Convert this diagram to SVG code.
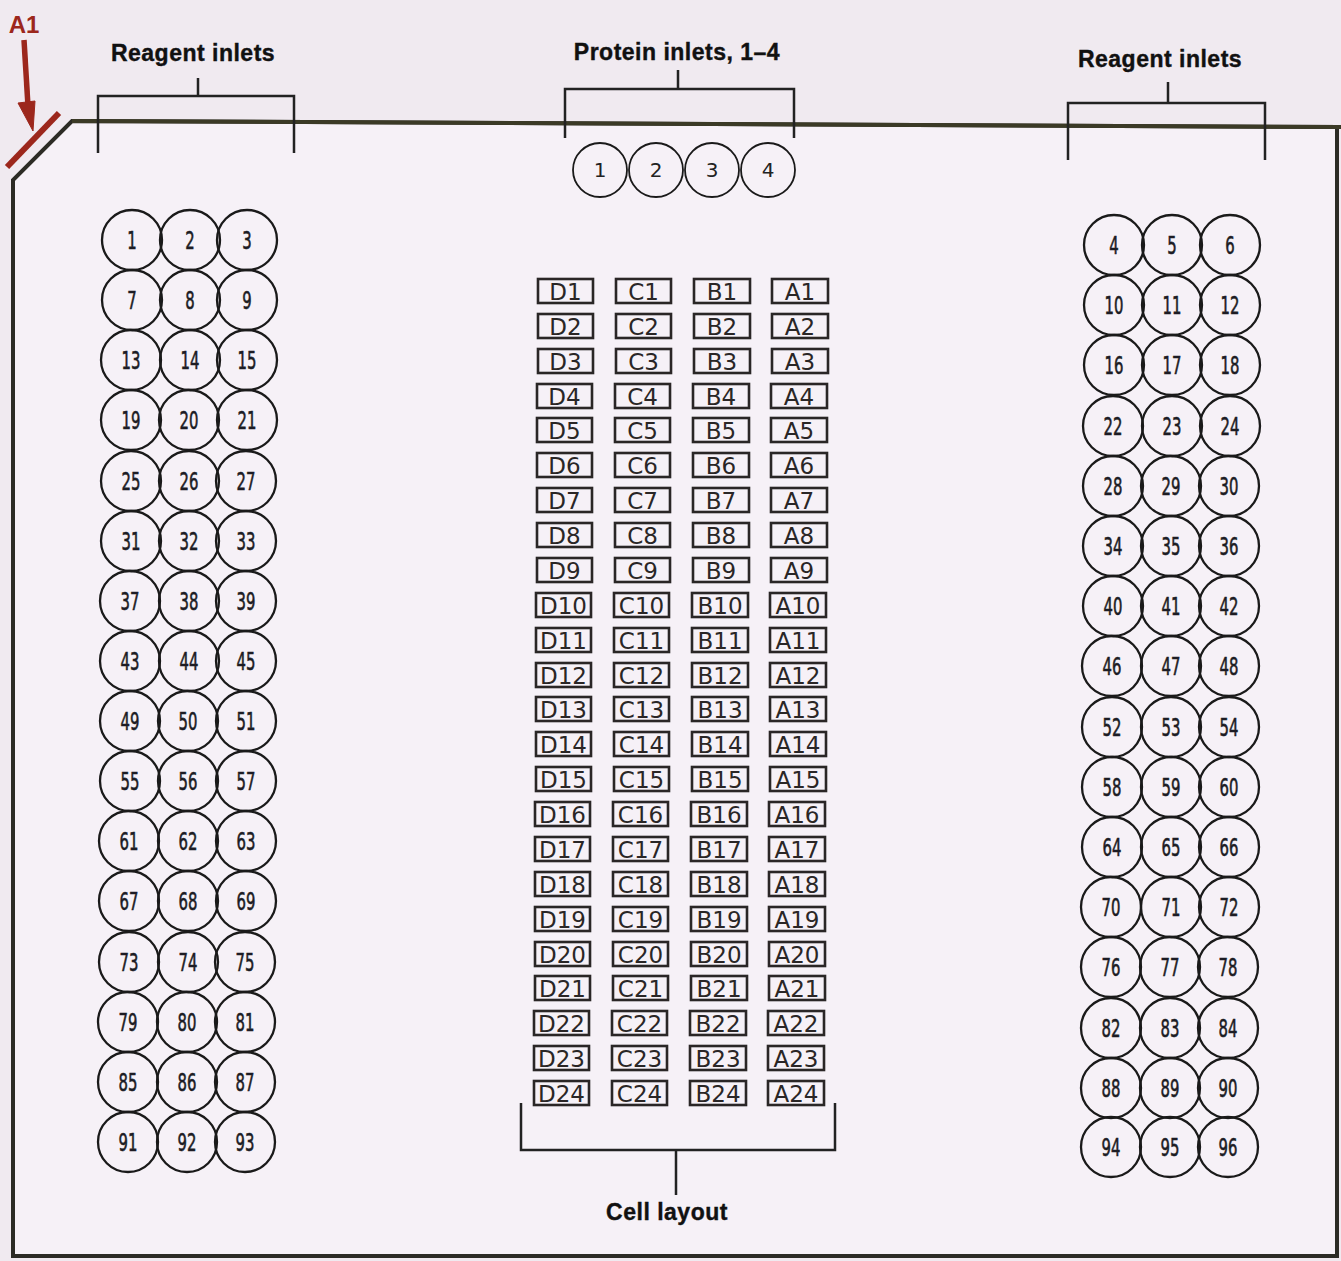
<svg xmlns="http://www.w3.org/2000/svg" width="1341" height="1261" viewBox="0 0 1341 1261">
<style>
.bg{fill:#f0eaf0}
.plate{fill:#f6f1f7;stroke:#2c2b25;stroke-width:4}
.br{fill:none;stroke:#222;stroke-width:2.5}
.lbl{font-family:"Liberation Sans",Arial,sans-serif;font-weight:bold;font-size:23px;letter-spacing:0.5px;fill:#111;text-anchor:middle;stroke:#111;stroke-width:0.4}
.w circle{fill:none;stroke:#1a1a1a;stroke-width:2.3}
.w text{font-family:"DejaVu Sans Condensed","DejaVu Sans",sans-serif;font-size:25px;fill:#1c1c24;stroke:#1c1c24;stroke-width:0.6;text-anchor:middle;transform:scale(0.66,1)}
.p circle{fill:none;stroke:#1a1a1a;stroke-width:1.8}
.p text{font-family:"DejaVu Sans",sans-serif;font-size:20px;fill:#222;text-anchor:middle}
.c rect{fill:none;stroke:#2a2626;stroke-width:2.6}
.c text{font-family:"DejaVu Sans",sans-serif;font-size:23px;fill:#2a2626;text-anchor:middle}
.red{stroke:#9c271c;fill:#9c271c}
</style>
<rect class="bg" x="0" y="0" width="1341" height="1261"/>
<g id="plate">
<path class="plate" d="M13 1256 L13 180 L72 121 L1341 127 L1337 127 L1337 1256 Z" />
<path d="M72 121 L1341 127" stroke="#3b3a26" stroke-width="4" fill="none"/>
</g>
<g id="marker-A1">
<text x="24" y="33" font-family="Liberation Sans,Arial,sans-serif" font-weight="bold" font-size="24" fill="#9c271c" text-anchor="middle">A1</text>
<line class="red" x1="24" y1="40" x2="28" y2="106" stroke-width="5.5"/>
<polygon class="red" points="18,103 35,101 33,131"/>
<line class="red" x1="7" y1="167" x2="59" y2="113" stroke-width="6"/>
</g>
<g id="connectors">
<path class="br" d="M98 153 V96 H294 V153 M198 96 V78"/>
<path class="br" d="M565 138 V89 H794 V138 M678 89 V70"/>
<path class="br" d="M1068 160 V103 H1265 V160 M1168 103 V82"/>
<path class="br" d="M521 1103 V1150 H835 V1103 M676 1150 V1195"/>
</g>
<g id="labels">
<text class="lbl" x="193" y="61">Reagent inlets</text>
<text class="lbl" x="677" y="60">Protein inlets, 1–4</text>
<text class="lbl" x="1160" y="67">Reagent inlets</text>
<text class="lbl" x="667" y="1220">Cell layout</text>
</g>
<g id="protein-inlets" class="p">
<g id="protein-1" transform="translate(600,170)"><circle r="27"/><text y="7">1</text></g>
<g id="protein-2" transform="translate(656,170)"><circle r="27"/><text y="7">2</text></g>
<g id="protein-3" transform="translate(712,170)"><circle r="27"/><text y="7">3</text></g>
<g id="protein-4" transform="translate(768,170)"><circle r="27"/><text y="7">4</text></g>
</g>
<g id="left-reagent-wells" class="w">
<g id="well-1" transform="translate(132,240)"><circle r="30"/><text y="9">1</text></g>
<g id="well-2" transform="translate(190,240)"><circle r="30"/><text y="9">2</text></g>
<g id="well-3" transform="translate(247,240)"><circle r="30"/><text y="9">3</text></g>
<g id="well-7" transform="translate(132,300)"><circle r="30"/><text y="9">7</text></g>
<g id="well-8" transform="translate(190,300)"><circle r="30"/><text y="9">8</text></g>
<g id="well-9" transform="translate(247,300)"><circle r="30"/><text y="9">9</text></g>
<g id="well-13" transform="translate(131,360)"><circle r="30"/><text y="9">13</text></g>
<g id="well-14" transform="translate(190,360)"><circle r="30"/><text y="9">14</text></g>
<g id="well-15" transform="translate(247,360)"><circle r="30"/><text y="9">15</text></g>
<g id="well-19" transform="translate(131,420)"><circle r="30"/><text y="9">19</text></g>
<g id="well-20" transform="translate(189,420)"><circle r="30"/><text y="9">20</text></g>
<g id="well-21" transform="translate(247,420)"><circle r="30"/><text y="9">21</text></g>
<g id="well-25" transform="translate(131,481)"><circle r="30"/><text y="9">25</text></g>
<g id="well-26" transform="translate(189,481)"><circle r="30"/><text y="9">26</text></g>
<g id="well-27" transform="translate(246,481)"><circle r="30"/><text y="9">27</text></g>
<g id="well-31" transform="translate(131,541)"><circle r="30"/><text y="9">31</text></g>
<g id="well-32" transform="translate(189,541)"><circle r="30"/><text y="9">32</text></g>
<g id="well-33" transform="translate(246,541)"><circle r="30"/><text y="9">33</text></g>
<g id="well-37" transform="translate(130,601)"><circle r="30"/><text y="9">37</text></g>
<g id="well-38" transform="translate(189,601)"><circle r="30"/><text y="9">38</text></g>
<g id="well-39" transform="translate(246,601)"><circle r="30"/><text y="9">39</text></g>
<g id="well-43" transform="translate(130,661)"><circle r="30"/><text y="9">43</text></g>
<g id="well-44" transform="translate(189,661)"><circle r="30"/><text y="9">44</text></g>
<g id="well-45" transform="translate(246,661)"><circle r="30"/><text y="9">45</text></g>
<g id="well-49" transform="translate(130,721)"><circle r="30"/><text y="9">49</text></g>
<g id="well-50" transform="translate(188,721)"><circle r="30"/><text y="9">50</text></g>
<g id="well-51" transform="translate(246,721)"><circle r="30"/><text y="9">51</text></g>
<g id="well-55" transform="translate(130,781)"><circle r="30"/><text y="9">55</text></g>
<g id="well-56" transform="translate(188,781)"><circle r="30"/><text y="9">56</text></g>
<g id="well-57" transform="translate(246,781)"><circle r="30"/><text y="9">57</text></g>
<g id="well-61" transform="translate(129,841)"><circle r="30"/><text y="9">61</text></g>
<g id="well-62" transform="translate(188,841)"><circle r="30"/><text y="9">62</text></g>
<g id="well-63" transform="translate(246,841)"><circle r="30"/><text y="9">63</text></g>
<g id="well-67" transform="translate(129,901)"><circle r="30"/><text y="9">67</text></g>
<g id="well-68" transform="translate(188,901)"><circle r="30"/><text y="9">68</text></g>
<g id="well-69" transform="translate(246,901)"><circle r="30"/><text y="9">69</text></g>
<g id="well-73" transform="translate(129,962)"><circle r="30"/><text y="9">73</text></g>
<g id="well-74" transform="translate(188,962)"><circle r="30"/><text y="9">74</text></g>
<g id="well-75" transform="translate(245,962)"><circle r="30"/><text y="9">75</text></g>
<g id="well-79" transform="translate(128,1022)"><circle r="30"/><text y="9">79</text></g>
<g id="well-80" transform="translate(187,1022)"><circle r="30"/><text y="9">80</text></g>
<g id="well-81" transform="translate(245,1022)"><circle r="30"/><text y="9">81</text></g>
<g id="well-85" transform="translate(128,1082)"><circle r="30"/><text y="9">85</text></g>
<g id="well-86" transform="translate(187,1082)"><circle r="30"/><text y="9">86</text></g>
<g id="well-87" transform="translate(245,1082)"><circle r="30"/><text y="9">87</text></g>
<g id="well-91" transform="translate(128,1142)"><circle r="30"/><text y="9">91</text></g>
<g id="well-92" transform="translate(187,1142)"><circle r="30"/><text y="9">92</text></g>
<g id="well-93" transform="translate(245,1142)"><circle r="30"/><text y="9">93</text></g>
</g>
<g id="right-reagent-wells" class="w">
<g id="well-4" transform="translate(1114,245)"><circle r="30"/><text y="9">4</text></g>
<g id="well-5" transform="translate(1172,245)"><circle r="30"/><text y="9">5</text></g>
<g id="well-6" transform="translate(1230,245)"><circle r="30"/><text y="9">6</text></g>
<g id="well-10" transform="translate(1114,305)"><circle r="30"/><text y="9">10</text></g>
<g id="well-11" transform="translate(1172,305)"><circle r="30"/><text y="9">11</text></g>
<g id="well-12" transform="translate(1230,305)"><circle r="30"/><text y="9">12</text></g>
<g id="well-16" transform="translate(1114,365)"><circle r="30"/><text y="9">16</text></g>
<g id="well-17" transform="translate(1172,365)"><circle r="30"/><text y="9">17</text></g>
<g id="well-18" transform="translate(1230,365)"><circle r="30"/><text y="9">18</text></g>
<g id="well-22" transform="translate(1113,426)"><circle r="30"/><text y="9">22</text></g>
<g id="well-23" transform="translate(1172,426)"><circle r="30"/><text y="9">23</text></g>
<g id="well-24" transform="translate(1230,426)"><circle r="30"/><text y="9">24</text></g>
<g id="well-28" transform="translate(1113,486)"><circle r="30"/><text y="9">28</text></g>
<g id="well-29" transform="translate(1171,486)"><circle r="30"/><text y="9">29</text></g>
<g id="well-30" transform="translate(1229,486)"><circle r="30"/><text y="9">30</text></g>
<g id="well-34" transform="translate(1113,546)"><circle r="30"/><text y="9">34</text></g>
<g id="well-35" transform="translate(1171,546)"><circle r="30"/><text y="9">35</text></g>
<g id="well-36" transform="translate(1229,546)"><circle r="30"/><text y="9">36</text></g>
<g id="well-40" transform="translate(1113,606)"><circle r="30"/><text y="9">40</text></g>
<g id="well-41" transform="translate(1171,606)"><circle r="30"/><text y="9">41</text></g>
<g id="well-42" transform="translate(1229,606)"><circle r="30"/><text y="9">42</text></g>
<g id="well-46" transform="translate(1112,666)"><circle r="30"/><text y="9">46</text></g>
<g id="well-47" transform="translate(1171,666)"><circle r="30"/><text y="9">47</text></g>
<g id="well-48" transform="translate(1229,666)"><circle r="30"/><text y="9">48</text></g>
<g id="well-52" transform="translate(1112,727)"><circle r="30"/><text y="9">52</text></g>
<g id="well-53" transform="translate(1171,727)"><circle r="30"/><text y="9">53</text></g>
<g id="well-54" transform="translate(1229,727)"><circle r="30"/><text y="9">54</text></g>
<g id="well-58" transform="translate(1112,787)"><circle r="30"/><text y="9">58</text></g>
<g id="well-59" transform="translate(1171,787)"><circle r="30"/><text y="9">59</text></g>
<g id="well-60" transform="translate(1229,787)"><circle r="30"/><text y="9">60</text></g>
<g id="well-64" transform="translate(1112,847)"><circle r="30"/><text y="9">64</text></g>
<g id="well-65" transform="translate(1171,847)"><circle r="30"/><text y="9">65</text></g>
<g id="well-66" transform="translate(1229,847)"><circle r="30"/><text y="9">66</text></g>
<g id="well-70" transform="translate(1111,907)"><circle r="30"/><text y="9">70</text></g>
<g id="well-71" transform="translate(1171,907)"><circle r="30"/><text y="9">71</text></g>
<g id="well-72" transform="translate(1229,907)"><circle r="30"/><text y="9">72</text></g>
<g id="well-76" transform="translate(1111,967)"><circle r="30"/><text y="9">76</text></g>
<g id="well-77" transform="translate(1170,967)"><circle r="30"/><text y="9">77</text></g>
<g id="well-78" transform="translate(1228,967)"><circle r="30"/><text y="9">78</text></g>
<g id="well-82" transform="translate(1111,1028)"><circle r="30"/><text y="9">82</text></g>
<g id="well-83" transform="translate(1170,1028)"><circle r="30"/><text y="9">83</text></g>
<g id="well-84" transform="translate(1228,1028)"><circle r="30"/><text y="9">84</text></g>
<g id="well-88" transform="translate(1111,1088)"><circle r="30"/><text y="9">88</text></g>
<g id="well-89" transform="translate(1170,1088)"><circle r="30"/><text y="9">89</text></g>
<g id="well-90" transform="translate(1228,1088)"><circle r="30"/><text y="9">90</text></g>
<g id="well-94" transform="translate(1111,1147)"><circle r="30"/><text y="9">94</text></g>
<g id="well-95" transform="translate(1170,1147)"><circle r="30"/><text y="9">95</text></g>
<g id="well-96" transform="translate(1228,1147)"><circle r="30"/><text y="9">96</text></g>
</g>
<g id="cell-layout" class="c">
<g transform="translate(0,291)"><g id="cell-D1"><rect x="538" y="-12" width="55" height="24"/><text x="565.5" y="8.5">D1</text></g><g id="cell-C1"><rect x="616" y="-12" width="55" height="24"/><text x="643.5" y="8.5">C1</text></g><g id="cell-B1"><rect x="694" y="-12" width="56" height="24"/><text x="722" y="8.5">B1</text></g><g id="cell-A1"><rect x="772" y="-12" width="56" height="24"/><text x="800" y="8.5">A1</text></g></g>
<g transform="translate(0,326)"><g id="cell-D2"><rect x="538" y="-12" width="55" height="24"/><text x="565.5" y="8.5">D2</text></g><g id="cell-C2"><rect x="616" y="-12" width="55" height="24"/><text x="643.5" y="8.5">C2</text></g><g id="cell-B2"><rect x="694" y="-12" width="56" height="24"/><text x="722" y="8.5">B2</text></g><g id="cell-A2"><rect x="772" y="-12" width="56" height="24"/><text x="800" y="8.5">A2</text></g></g>
<g transform="translate(0,361)"><g id="cell-D3"><rect x="538" y="-12" width="55" height="24"/><text x="565.5" y="8.5">D3</text></g><g id="cell-C3"><rect x="616" y="-12" width="55" height="24"/><text x="643.5" y="8.5">C3</text></g><g id="cell-B3"><rect x="694" y="-12" width="56" height="24"/><text x="722" y="8.5">B3</text></g><g id="cell-A3"><rect x="772" y="-12" width="56" height="24"/><text x="800" y="8.5">A3</text></g></g>
<g transform="translate(-1,396)"><g id="cell-D4"><rect x="538" y="-12" width="55" height="24"/><text x="565.5" y="8.5">D4</text></g><g id="cell-C4"><rect x="616" y="-12" width="55" height="24"/><text x="643.5" y="8.5">C4</text></g><g id="cell-B4"><rect x="694" y="-12" width="56" height="24"/><text x="722" y="8.5">B4</text></g><g id="cell-A4"><rect x="772" y="-12" width="56" height="24"/><text x="800" y="8.5">A4</text></g></g>
<g transform="translate(-1,430)"><g id="cell-D5"><rect x="538" y="-12" width="55" height="24"/><text x="565.5" y="8.5">D5</text></g><g id="cell-C5"><rect x="616" y="-12" width="55" height="24"/><text x="643.5" y="8.5">C5</text></g><g id="cell-B5"><rect x="694" y="-12" width="56" height="24"/><text x="722" y="8.5">B5</text></g><g id="cell-A5"><rect x="772" y="-12" width="56" height="24"/><text x="800" y="8.5">A5</text></g></g>
<g transform="translate(-1,465)"><g id="cell-D6"><rect x="538" y="-12" width="55" height="24"/><text x="565.5" y="8.5">D6</text></g><g id="cell-C6"><rect x="616" y="-12" width="55" height="24"/><text x="643.5" y="8.5">C6</text></g><g id="cell-B6"><rect x="694" y="-12" width="56" height="24"/><text x="722" y="8.5">B6</text></g><g id="cell-A6"><rect x="772" y="-12" width="56" height="24"/><text x="800" y="8.5">A6</text></g></g>
<g transform="translate(-1,500)"><g id="cell-D7"><rect x="538" y="-12" width="55" height="24"/><text x="565.5" y="8.5">D7</text></g><g id="cell-C7"><rect x="616" y="-12" width="55" height="24"/><text x="643.5" y="8.5">C7</text></g><g id="cell-B7"><rect x="694" y="-12" width="56" height="24"/><text x="722" y="8.5">B7</text></g><g id="cell-A7"><rect x="772" y="-12" width="56" height="24"/><text x="800" y="8.5">A7</text></g></g>
<g transform="translate(-1,535)"><g id="cell-D8"><rect x="538" y="-12" width="55" height="24"/><text x="565.5" y="8.5">D8</text></g><g id="cell-C8"><rect x="616" y="-12" width="55" height="24"/><text x="643.5" y="8.5">C8</text></g><g id="cell-B8"><rect x="694" y="-12" width="56" height="24"/><text x="722" y="8.5">B8</text></g><g id="cell-A8"><rect x="772" y="-12" width="56" height="24"/><text x="800" y="8.5">A8</text></g></g>
<g transform="translate(-1,570)"><g id="cell-D9"><rect x="538" y="-12" width="55" height="24"/><text x="565.5" y="8.5">D9</text></g><g id="cell-C9"><rect x="616" y="-12" width="55" height="24"/><text x="643.5" y="8.5">C9</text></g><g id="cell-B9"><rect x="694" y="-12" width="56" height="24"/><text x="722" y="8.5">B9</text></g><g id="cell-A9"><rect x="772" y="-12" width="56" height="24"/><text x="800" y="8.5">A9</text></g></g>
<g transform="translate(-2,605)"><g id="cell-D10"><rect x="538" y="-12" width="55" height="24"/><text x="565.5" y="8.5">D10</text></g><g id="cell-C10"><rect x="616" y="-12" width="55" height="24"/><text x="643.5" y="8.5">C10</text></g><g id="cell-B10"><rect x="694" y="-12" width="56" height="24"/><text x="722" y="8.5">B10</text></g><g id="cell-A10"><rect x="772" y="-12" width="56" height="24"/><text x="800" y="8.5">A10</text></g></g>
<g transform="translate(-2,640)"><g id="cell-D11"><rect x="538" y="-12" width="55" height="24"/><text x="565.5" y="8.5">D11</text></g><g id="cell-C11"><rect x="616" y="-12" width="55" height="24"/><text x="643.5" y="8.5">C11</text></g><g id="cell-B11"><rect x="694" y="-12" width="56" height="24"/><text x="722" y="8.5">B11</text></g><g id="cell-A11"><rect x="772" y="-12" width="56" height="24"/><text x="800" y="8.5">A11</text></g></g>
<g transform="translate(-2,675)"><g id="cell-D12"><rect x="538" y="-12" width="55" height="24"/><text x="565.5" y="8.5">D12</text></g><g id="cell-C12"><rect x="616" y="-12" width="55" height="24"/><text x="643.5" y="8.5">C12</text></g><g id="cell-B12"><rect x="694" y="-12" width="56" height="24"/><text x="722" y="8.5">B12</text></g><g id="cell-A12"><rect x="772" y="-12" width="56" height="24"/><text x="800" y="8.5">A12</text></g></g>
<g transform="translate(-2,709)"><g id="cell-D13"><rect x="538" y="-12" width="55" height="24"/><text x="565.5" y="8.5">D13</text></g><g id="cell-C13"><rect x="616" y="-12" width="55" height="24"/><text x="643.5" y="8.5">C13</text></g><g id="cell-B13"><rect x="694" y="-12" width="56" height="24"/><text x="722" y="8.5">B13</text></g><g id="cell-A13"><rect x="772" y="-12" width="56" height="24"/><text x="800" y="8.5">A13</text></g></g>
<g transform="translate(-2,744)"><g id="cell-D14"><rect x="538" y="-12" width="55" height="24"/><text x="565.5" y="8.5">D14</text></g><g id="cell-C14"><rect x="616" y="-12" width="55" height="24"/><text x="643.5" y="8.5">C14</text></g><g id="cell-B14"><rect x="694" y="-12" width="56" height="24"/><text x="722" y="8.5">B14</text></g><g id="cell-A14"><rect x="772" y="-12" width="56" height="24"/><text x="800" y="8.5">A14</text></g></g>
<g transform="translate(-2,779)"><g id="cell-D15"><rect x="538" y="-12" width="55" height="24"/><text x="565.5" y="8.5">D15</text></g><g id="cell-C15"><rect x="616" y="-12" width="55" height="24"/><text x="643.5" y="8.5">C15</text></g><g id="cell-B15"><rect x="694" y="-12" width="56" height="24"/><text x="722" y="8.5">B15</text></g><g id="cell-A15"><rect x="772" y="-12" width="56" height="24"/><text x="800" y="8.5">A15</text></g></g>
<g transform="translate(-3,814)"><g id="cell-D16"><rect x="538" y="-12" width="55" height="24"/><text x="565.5" y="8.5">D16</text></g><g id="cell-C16"><rect x="616" y="-12" width="55" height="24"/><text x="643.5" y="8.5">C16</text></g><g id="cell-B16"><rect x="694" y="-12" width="56" height="24"/><text x="722" y="8.5">B16</text></g><g id="cell-A16"><rect x="772" y="-12" width="56" height="24"/><text x="800" y="8.5">A16</text></g></g>
<g transform="translate(-3,849)"><g id="cell-D17"><rect x="538" y="-12" width="55" height="24"/><text x="565.5" y="8.5">D17</text></g><g id="cell-C17"><rect x="616" y="-12" width="55" height="24"/><text x="643.5" y="8.5">C17</text></g><g id="cell-B17"><rect x="694" y="-12" width="56" height="24"/><text x="722" y="8.5">B17</text></g><g id="cell-A17"><rect x="772" y="-12" width="56" height="24"/><text x="800" y="8.5">A17</text></g></g>
<g transform="translate(-3,884)"><g id="cell-D18"><rect x="538" y="-12" width="55" height="24"/><text x="565.5" y="8.5">D18</text></g><g id="cell-C18"><rect x="616" y="-12" width="55" height="24"/><text x="643.5" y="8.5">C18</text></g><g id="cell-B18"><rect x="694" y="-12" width="56" height="24"/><text x="722" y="8.5">B18</text></g><g id="cell-A18"><rect x="772" y="-12" width="56" height="24"/><text x="800" y="8.5">A18</text></g></g>
<g transform="translate(-3,919)"><g id="cell-D19"><rect x="538" y="-12" width="55" height="24"/><text x="565.5" y="8.5">D19</text></g><g id="cell-C19"><rect x="616" y="-12" width="55" height="24"/><text x="643.5" y="8.5">C19</text></g><g id="cell-B19"><rect x="694" y="-12" width="56" height="24"/><text x="722" y="8.5">B19</text></g><g id="cell-A19"><rect x="772" y="-12" width="56" height="24"/><text x="800" y="8.5">A19</text></g></g>
<g transform="translate(-3,954)"><g id="cell-D20"><rect x="538" y="-12" width="55" height="24"/><text x="565.5" y="8.5">D20</text></g><g id="cell-C20"><rect x="616" y="-12" width="55" height="24"/><text x="643.5" y="8.5">C20</text></g><g id="cell-B20"><rect x="694" y="-12" width="56" height="24"/><text x="722" y="8.5">B20</text></g><g id="cell-A20"><rect x="772" y="-12" width="56" height="24"/><text x="800" y="8.5">A20</text></g></g>
<g transform="translate(-3,988)"><g id="cell-D21"><rect x="538" y="-12" width="55" height="24"/><text x="565.5" y="8.5">D21</text></g><g id="cell-C21"><rect x="616" y="-12" width="55" height="24"/><text x="643.5" y="8.5">C21</text></g><g id="cell-B21"><rect x="694" y="-12" width="56" height="24"/><text x="722" y="8.5">B21</text></g><g id="cell-A21"><rect x="772" y="-12" width="56" height="24"/><text x="800" y="8.5">A21</text></g></g>
<g transform="translate(-4,1023)"><g id="cell-D22"><rect x="538" y="-12" width="55" height="24"/><text x="565.5" y="8.5">D22</text></g><g id="cell-C22"><rect x="616" y="-12" width="55" height="24"/><text x="643.5" y="8.5">C22</text></g><g id="cell-B22"><rect x="694" y="-12" width="56" height="24"/><text x="722" y="8.5">B22</text></g><g id="cell-A22"><rect x="772" y="-12" width="56" height="24"/><text x="800" y="8.5">A22</text></g></g>
<g transform="translate(-4,1058)"><g id="cell-D23"><rect x="538" y="-12" width="55" height="24"/><text x="565.5" y="8.5">D23</text></g><g id="cell-C23"><rect x="616" y="-12" width="55" height="24"/><text x="643.5" y="8.5">C23</text></g><g id="cell-B23"><rect x="694" y="-12" width="56" height="24"/><text x="722" y="8.5">B23</text></g><g id="cell-A23"><rect x="772" y="-12" width="56" height="24"/><text x="800" y="8.5">A23</text></g></g>
<g transform="translate(-4,1093)"><g id="cell-D24"><rect x="538" y="-12" width="55" height="24"/><text x="565.5" y="8.5">D24</text></g><g id="cell-C24"><rect x="616" y="-12" width="55" height="24"/><text x="643.5" y="8.5">C24</text></g><g id="cell-B24"><rect x="694" y="-12" width="56" height="24"/><text x="722" y="8.5">B24</text></g><g id="cell-A24"><rect x="772" y="-12" width="56" height="24"/><text x="800" y="8.5">A24</text></g></g>
</g>
</svg>
